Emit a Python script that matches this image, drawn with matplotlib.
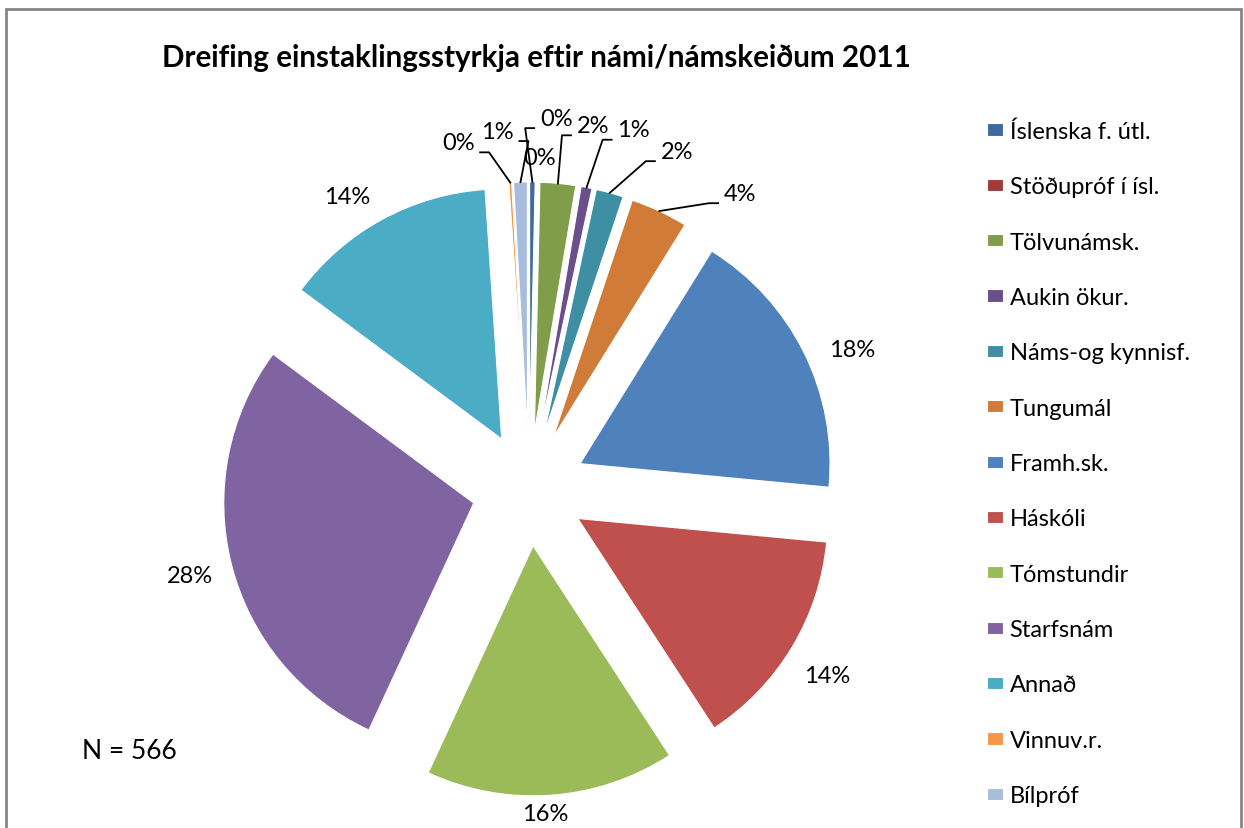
import numpy as np
import matplotlib
matplotlib.use('Agg')
import matplotlib.pyplot as plt
from matplotlib.patches import Rectangle

plt.rcParams['font.family'] = ['Lato', 'DejaVu Sans']

# Gögn
categories = ['Íslenska f. útl.', 'Stöðupróf í ísl.', 'Tölvunámsk.', 'Aukin ökur.',
              'Náms-og kynnisf.', 'Tungumál', 'Framh.sk.', 'Háskóli', 'Tómstundir',
              'Starfsnám', 'Annað', 'Vinnuv.r.', 'Bílpróf']
counts = [2, 0, 13, 4, 10, 21, 100, 81, 91, 160, 78, 1, 5]
n_total = 566

colors = ['#3E6AA0', '#9E3C3A', '#809D4A', '#6A4F8A', '#3E8FA4', '#D07C38',
          '#4F81BD', '#C0504D', '#9BBB59', '#8064A2', '#4BACC6', '#F79646', '#A8BCDC']

# staðsetning merkja (fjarlægð í radíusum, snúningur í gráðum)
lbl_dist = [1.26, 1.10, 1.25, 1.27, 1.25, 1.23, 1.18, 1.18, 1.07, 1.17, 1.15, 1.19, 1.21]
lbl_turn = [4.2, 0.7, 5.4, 6.4, 9.9, 12.3, 3.6, 1.1, 1.5, 0.0, -3.9, -9.6, -4.1]
leader = [True, False, True, True, True, True, False, False, False, False, False, True, True]

W, H = 1244, 829
fig = plt.figure(figsize=(W / 100, H / 100), dpi=100)
ax = fig.add_axes([0, 0, 1, 1])

cx, cy, R, expl = 529, H - 490, 250, 57
wedges, _ = ax.pie(counts, colors=colors, startangle=90, counterclock=False,
                   center=(cx, cy), radius=R, explode=[expl] * len(counts),
                   wedgeprops=dict(edgecolor='white', linewidth=0.8))
ax.set_xlim(0, W)
ax.set_ylim(0, H)
ax.set_aspect('equal')
ax.axis('off')

total = sum(counts)
for i, w in enumerate(wedges):
    pct = 100 * counts[i] / total
    mid = np.deg2rad((w.theta1 + w.theta2) / 2)
    ex, ey = w.center
    turn = np.deg2rad(-lbl_turn[i])
    tx = ex + lbl_dist[i] * R * np.cos(mid + turn)
    ty = ey + lbl_dist[i] * R * np.sin(mid + turn)
    ax.text(tx, ty, f'{pct:.0f}%', ha='center', va='center', fontsize=17, color='black')
    if leader[i]:
        ax_x = ex + R * np.cos(mid)
        ax_y = ey + R * np.sin(mid)
        side = 1 if lbl_turn[i] > 0 else -1
        px = [ax_x, tx - side * 31, tx - side * 22]
        py = [ax_y, ty - 10, ty - 10]
        ax.plot(px, py, color='black', lw=1.3)

ax.text(536, H - 58, 'Dreifing einstaklingsstyrkja eftir námi/námskeiðum 2011',
        ha='center', va='center', fontsize=21.3, fontweight='bold')
ax.text(82, H - 752, 'N = 566', ha='left', va='center', fontsize=19)

leg = ax.legend(wedges, categories, loc='upper left', bbox_to_anchor=(978 / W, 1 - 112 / H),
                frameon=False, fontsize=17, handlelength=0.64, handleheight=0.42,
                handletextpad=0.3, labelspacing=1.455, borderaxespad=0)

fig.patches.append(Rectangle((6 / W, -0.05), (1241 - 6) / W, 1.05 - 10 / H,
                             transform=fig.transFigure, fill=False,
                             edgecolor='#878787', lw=2))

plt.savefig('out.png', dpi=100)
